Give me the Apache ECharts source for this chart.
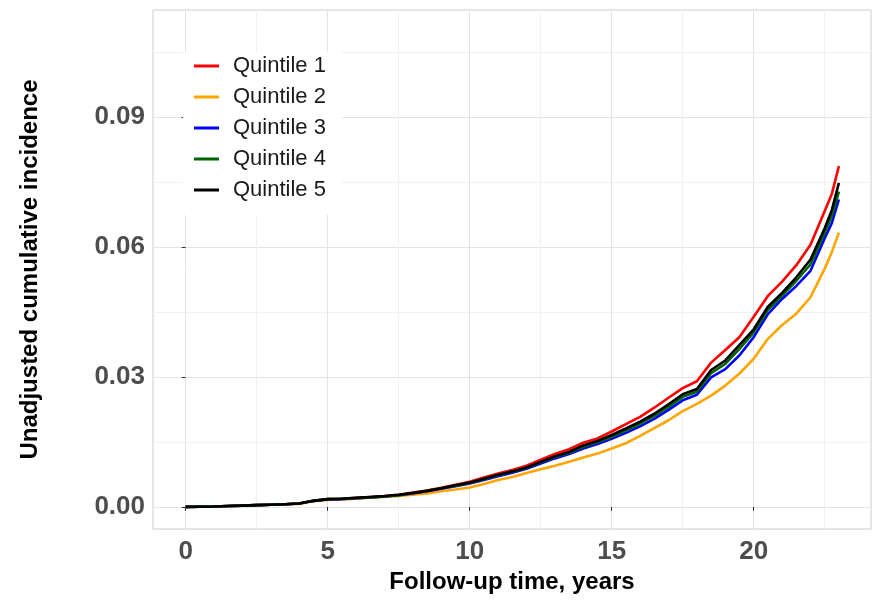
<!DOCTYPE html>
<html>
<head>
<meta charset="utf-8">
<script src="https://cdn.jsdelivr.net/npm/echarts@6/dist/echarts.min.js"></script>
<style>
  html, body { margin: 0; padding: 0; background: #ffffff; }
  #chart { width: 877px; height: 600px; }
</style>
</head>
<body>
<div id="chart"></div>
<script>
// follow-up time (years)
const times = [0, 0.5, 1, 1.5, 2, 2.5, 3, 3.5, 4, 4.5, 5, 5.5, 6, 6.5, 7, 7.5, 8, 8.5,
  9, 9.5, 10, 10.5, 11, 11.5, 12, 12.5, 13, 13.5, 14, 14.5, 15, 15.5, 16, 16.5, 17, 17.5,
  18, 18.5, 19, 19.5, 20, 20.5, 21, 21.5, 22, 22.5, 22.75, 23];

const quintile1 = [0, 0.00005, 0.0001, 0.0002, 0.0003, 0.0004, 0.0005, 0.0006, 0.0008, 0.0014, 0.0018, 0.0019, 0.0021, 0.0023, 0.0025, 0.0028, 0.0033, 0.0038,
  0.0044, 0.0051, 0.0058, 0.0068, 0.0077, 0.0085, 0.0095, 0.0109, 0.0122, 0.0133, 0.0148, 0.0158, 0.0174, 0.0191, 0.0208, 0.0229, 0.0252, 0.0274,
  0.0290, 0.0333, 0.0362, 0.0392, 0.0439, 0.0487, 0.0520, 0.0558, 0.0605, 0.0683, 0.0722, 0.0787];
const quintile2 = [0, 0.00005, 0.0001, 0.0002, 0.0003, 0.0004, 0.0005, 0.0006, 0.0007, 0.0013, 0.0016, 0.0017, 0.0019, 0.0021, 0.0023, 0.0025, 0.0028, 0.0031,
  0.0036, 0.0040, 0.0045, 0.0053, 0.0062, 0.0069, 0.0078, 0.0087, 0.0095, 0.0104, 0.0114, 0.0123, 0.0135, 0.0147, 0.0164, 0.0182, 0.0200, 0.0221,
  0.0238, 0.0257, 0.0280, 0.0308, 0.0342, 0.0388, 0.0420, 0.0446, 0.0484, 0.0550, 0.0588, 0.0633];
const quintile3 = [0, 0.00005, 0.0001, 0.0002, 0.0003, 0.0004, 0.0005, 0.0006, 0.0008, 0.0014, 0.0017, 0.0018, 0.0020, 0.0022, 0.0024, 0.0027, 0.0031, 0.0036,
  0.0042, 0.0048, 0.0054, 0.0062, 0.0071, 0.0079, 0.0088, 0.0100, 0.0112, 0.0122, 0.0135, 0.0145, 0.0157, 0.0171, 0.0186, 0.0203, 0.0224, 0.0246,
  0.0259, 0.0299, 0.0318, 0.0350, 0.0392, 0.0445, 0.0480, 0.0510, 0.0545, 0.0620, 0.0655, 0.0710];
const quintile4 = [0, 0.00005, 0.0001, 0.0002, 0.0003, 0.0004, 0.0005, 0.0006, 0.0008, 0.0014, 0.0018, 0.0019, 0.0020, 0.0022, 0.0024, 0.0027, 0.0032, 0.0037,
  0.0043, 0.0049, 0.0055, 0.0064, 0.0073, 0.0081, 0.0090, 0.0103, 0.0115, 0.0125, 0.0139, 0.0149, 0.0162, 0.0177, 0.0192, 0.0210, 0.0231, 0.0254,
  0.0266, 0.0309, 0.0330, 0.0365, 0.0403, 0.0455, 0.0488, 0.0522, 0.0560, 0.0633, 0.0672, 0.0728];
const quintile5 = [0, 0.00005, 0.0001, 0.0002, 0.0003, 0.0004, 0.0005, 0.0006, 0.0008, 0.0014, 0.0018, 0.0019, 0.0021, 0.0023, 0.0025, 0.0028, 0.0032, 0.0037,
  0.0043, 0.0050, 0.0056, 0.0065, 0.0074, 0.0082, 0.0091, 0.0104, 0.0117, 0.0127, 0.0142, 0.0152, 0.0166, 0.0181, 0.0197, 0.0215, 0.0237, 0.0260,
  0.0272, 0.0316, 0.0338, 0.0374, 0.0410, 0.0462, 0.0494, 0.0530, 0.0571, 0.0643, 0.0685, 0.0748];

const seriesNames = ['Quintile 1', 'Quintile 2', 'Quintile 3', 'Quintile 4', 'Quintile 5'];
const seriesColors = ['#ff0000', '#ffa500', '#0000ff', '#006400', '#000000'];
const seriesValues = [quintile1, quintile2, quintile3, quintile4, quintile5];

// axis ticks
const xTicks = [0, 5, 10, 15, 20];
const xMinorTicks = [2.5, 7.5, 12.5, 17.5, 22.5];
const yTicks = [0, 0.03, 0.06, 0.09];
const yMinorTicks = [0.015, 0.045, 0.075, 0.105];

const font = 'Liberation Sans, Arial, sans-serif';
const chart = echarts.init(document.getElementById('chart'));

const tickLabel = {
  fontFamily: font,
  fontSize: 26,
  fontWeight: 'bold',
  color: '#4d4d4d'
};

const option = {
  animation: false,
  grid: {
    left: 153,
    right: 6,
    top: 10,
    bottom: 71,
    show: true,
    borderColor: '#cccccc',
    borderWidth: 1,
    backgroundColor: '#ffffff'
  },
  legend: {
    data: seriesNames,
    orient: 'vertical',
    left: 183,
    top: 52,
    padding: [3, 16, 14, 11],
    itemGap: 9,
    itemWidth: 25,
    itemHeight: 3,
    icon: 'rect',
    backgroundColor: '#ffffff',
    textStyle: {
      fontFamily: font,
      fontSize: 22,
      color: '#1a1a1a',
      padding: [0, 0, 0, 9]
    }
  },
  xAxis: [
    {
      type: 'value',
      min: -1.15,
      max: 24.13,
      name: 'Follow-up time, years',
      nameLocation: 'middle',
      nameGap: 37,
      nameTextStyle: { fontFamily: font, fontSize: 24, fontWeight: 'bold', color: '#000000' },
      axisLine: { show: false },
      axisTick: { show: true, customValues: xTicks, length: 4, lineStyle: { color: '#333333' } },
      axisLabel: Object.assign({ customValues: xTicks, margin: 10 }, tickLabel),
      splitLine: { show: true, lineStyle: { color: '#e4e4e4', width: 1 } }
    },
    {
      type: 'value',
      position: 'top',
      min: -1.15,
      max: 24.13,
      axisLine: { show: false },
      axisTick: { show: false, customValues: xMinorTicks },
      axisLabel: { show: false, customValues: xMinorTicks },
      splitLine: { show: true, lineStyle: { color: '#f1f1f1', width: 1 } }
    }
  ],
  yAxis: [
    {
      type: 'value',
      min: -0.0051,
      max: 0.1147,
      name: 'Unadjusted cumulative incidence',
      nameLocation: 'middle',
      nameGap: 111,
      nameTextStyle: { fontFamily: font, fontSize: 24, fontWeight: 'bold', color: '#000000' },
      axisLine: { show: false },
      axisTick: { show: true, customValues: yTicks, length: 4, lineStyle: { color: '#333333' } },
      axisLabel: Object.assign({
        customValues: yTicks,
        margin: 8,
        formatter: v => v.toFixed(2)
      }, tickLabel),
      splitLine: { show: true, lineStyle: { color: '#e4e4e4', width: 1 } }
    },
    {
      type: 'value',
      position: 'right',
      min: -0.0051,
      max: 0.1147,
      axisLine: { show: false },
      axisTick: { show: false, customValues: yMinorTicks },
      axisLabel: { show: false, customValues: yMinorTicks },
      splitLine: { show: true, lineStyle: { color: '#f1f1f1', width: 1 } }
    }
  ],
  series: seriesNames.map((name, k) => ({
    name: name,
    type: 'line',
    xAxisIndex: 0,
    yAxisIndex: 0,
    showSymbol: false,
    symbol: 'none',
    color: seriesColors[k],
    lineStyle: { width: 2.6, color: seriesColors[k] },
    z: 2 + k,
    data: times.map((t, i) => [t, seriesValues[k][i]])
  }))
};

chart.setOption(option);
</script>
</body>
</html>
